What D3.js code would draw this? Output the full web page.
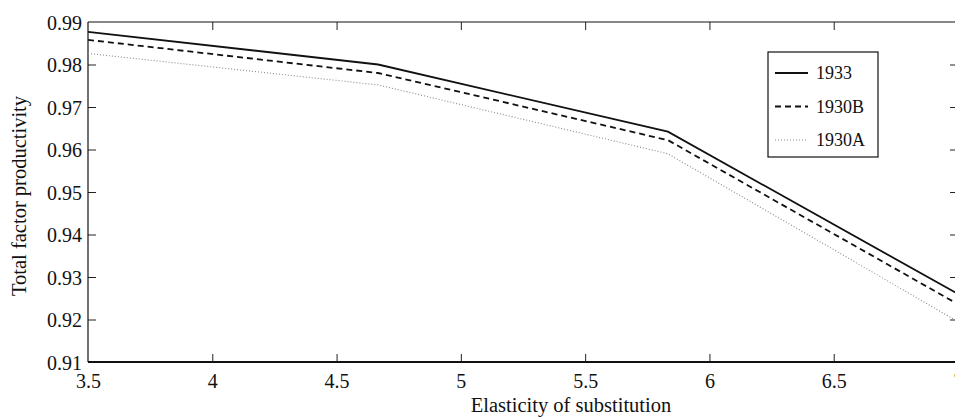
<!DOCTYPE html>
<html lang="en">
<head>
<meta charset="utf-8">
<title>Total factor productivity</title>
<script src="https://d3js.org/d3.v7.min.js"></script>
<style>
  body { margin: 0; background: #fff; }
  svg { display: block; }
  text { font-family: "Liberation Serif", "Times New Roman", serif; fill: #111; }
</style>
</head>
<body>
<svg id="chart" width="955" height="417"></svg>
<script>
// data
var elasticity = [3.5, 4.667, 5.833, 7.0];
var tfp1933  = [0.9877, 0.9800, 0.9642, 0.9260];
var tfp1930B = [0.9858, 0.9780, 0.9622, 0.9236];
var tfp1930A = [0.9826, 0.9752, 0.9590, 0.9195];
var seriesNames = ["1933", "1930B", "1930A"];
var xTicks = [3.5, 4, 4.5, 5, 5.5, 6, 6.5, 7];
var yTicks = [0.91, 0.92, 0.93, 0.94, 0.95, 0.96, 0.97, 0.98, 0.99];

var plotL = 88, plotR = 958, plotT = 22, plotB = 362;

var svg = d3.select("#chart");

var x = d3.scaleLinear().domain([3.5, 7]).range([plotL, plotR]);
var y = d3.scaleLinear().domain([0.91, 0.99]).range([plotB, plotT]);

var tickLen = 8;

// axes with inward ticks
var xBottom = svg.append("g")
  .attr("transform", "translate(0," + plotB + ")")
  .call(d3.axisBottom(x).tickValues(xTicks).tickSizeInner(-tickLen).tickSizeOuter(0)
        .tickPadding(12).tickFormat(d3.format("")));
var xTop = svg.append("g")
  .attr("transform", "translate(0," + plotT + ")")
  .call(d3.axisTop(x).tickValues(xTicks).tickSizeInner(-tickLen).tickSizeOuter(0).tickFormat(""));
var yLeft = svg.append("g")
  .attr("transform", "translate(" + plotL + ",0)")
  .call(d3.axisLeft(y).tickValues(yTicks).tickSizeInner(-tickLen).tickSizeOuter(0)
        .tickPadding(6).tickFormat(d3.format(".2f")));
var yRight = svg.append("g")
  .attr("transform", "translate(" + plotR + ",0)")
  .call(d3.axisRight(y).tickValues(yTicks).tickSizeInner(-tickLen).tickSizeOuter(0).tickFormat(""));

[xBottom, xTop, yLeft, yRight].forEach(function(g) {
  g.attr("font-family", null).attr("font-size", null);
  g.select(".domain").remove();
  g.selectAll(".tick line").attr("stroke", "#222").attr("stroke-width", 1);
  g.selectAll(".tick text").style("font-size", "20px").attr("fill", "#111");
});
// no tick marks in the corners
xBottom.selectAll(".tick line").filter(function(d) { return d === 3.5 || d === 7; }).remove();
xTop.selectAll(".tick line").filter(function(d) { return d === 3.5 || d === 7; }).remove();
yLeft.selectAll(".tick line").filter(function(d) { return d === 0.91 || d === 0.99; }).remove();
yRight.selectAll(".tick line").filter(function(d) { return d === 0.91 || d === 0.99; }).remove();
yLeft.selectAll(".tick text").attr("dy", "0.35em");

// frame
function frameLine(x1, y1, x2, y2, w) {
  svg.append("line").attr("x1", x1).attr("y1", y1).attr("x2", x2).attr("y2", y2)
    .attr("stroke", "#111").attr("stroke-width", w);
}
frameLine(plotL, plotT, plotR, plotT, 1.2);
frameLine(plotL, plotT, plotL, plotB, 1.2);
frameLine(plotR, plotT, plotR, plotB, 1.2);
frameLine(plotL, plotB, plotR, plotB, 2);

// series
var styles = [
  { stroke: "#111", width: 1.8, dash: null },
  { stroke: "#111", width: 1.8, dash: "6,4" },
  { stroke: "#8a8a8a", width: 1.1, dash: "1,2" }
];
var allSeries = [tfp1933, tfp1930B, tfp1930A];

var line = d3.line()
  .x(function(d, i) { return x(elasticity[i]); })
  .y(function(d) { return y(d); });

svg.append("g").selectAll("path")
  .data(allSeries)
  .enter().append("path")
  .attr("d", line)
  .attr("fill", "none")
  .attr("stroke", function(d, i) { return styles[i].stroke; })
  .attr("stroke-width", function(d, i) { return styles[i].width; })
  .attr("stroke-dasharray", function(d, i) { return styles[i].dash; });

// legend
var lg = svg.append("g").attr("transform", "translate(768,52)");
lg.append("rect").attr("width", 110).attr("height", 105)
  .attr("fill", "#fff").attr("stroke", "#111").attr("stroke-width", 1.2);
var rows = lg.selectAll(".row").data(seriesNames).enter().append("g")
  .attr("transform", function(d, i) { return "translate(0," + (21 + i * 33.5) + ")"; });
rows.append("line").attr("x1", 7).attr("x2", 40).attr("y1", 0).attr("y2", 0)
  .attr("stroke", function(d, i) { return styles[i].stroke; })
  .attr("stroke-width", function(d, i) { return styles[i].width; })
  .attr("stroke-dasharray", function(d, i) { return styles[i].dash; });
rows.append("text").attr("x", 48).attr("dy", "0.35em")
  .style("font-size", "18px").text(function(d) { return d; });

// axis titles
svg.append("text").attr("x", 571).attr("y", 412).attr("text-anchor", "middle")
  .style("font-size", "20.5px").text("Elasticity of substitution");
svg.append("text").attr("transform", "translate(26,196) rotate(-90)").attr("text-anchor", "middle")
  .style("font-size", "20.5px").text("Total factor productivity");
</script>
</body>
</html>
